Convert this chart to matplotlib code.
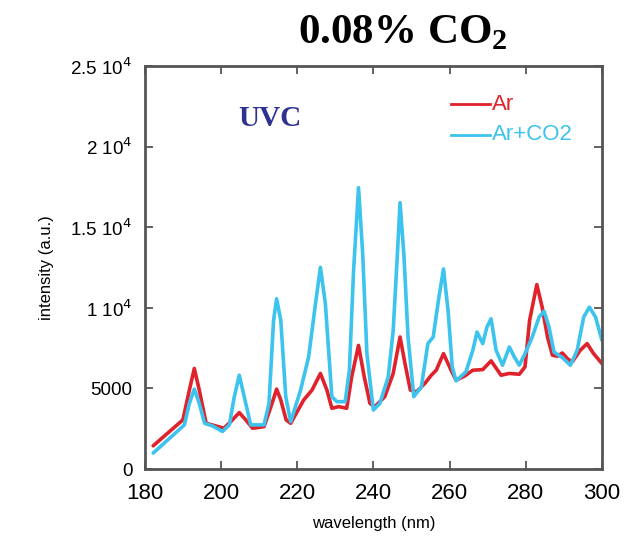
import matplotlib
matplotlib.use("Agg")
import matplotlib.pyplot as plt

plt.rcParams['font.family'] = ['Liberation Sans', 'DejaVu Sans']

# Ar+CO2 spectrum (blue)
wl_co2 = [182.2, 190.4, 191.7, 193.0, 194.3, 195.7, 197.8, 200.4, 202.2, 203.5, 204.8, 206.1, 207.8,
          211.3, 212.6, 213.8, 214.6, 215.7, 217.0, 218.3, 220.9, 223.0, 224.8, 226.1, 227.4, 229.1,
          230.4, 232.6, 233.7, 234.8, 236.1, 237.2, 238.3, 240.0, 241.7, 243.9, 245.2, 246.3, 247.0,
          248.0, 249.1, 250.6, 252.6, 254.3, 255.7, 257.2, 258.4, 259.6, 260.7, 261.7, 264.3, 266.1,
          267.2, 268.7, 269.8, 270.9, 272.2, 273.9, 275.7, 277.0, 278.3, 280.0, 281.7, 283.5, 284.8,
          286.1, 287.4, 289.6, 291.7, 293.5, 295.2, 296.7, 298.3, 300.0]
int_co2 = [990, 2740, 4070, 4960, 4070, 2840, 2670, 2330, 2740, 4490, 5820, 4490, 2740,
           2740, 4070, 9220, 10560, 9220, 4490, 2940, 4900, 6950, 10250, 12510, 10250, 4490,
           4180, 4180, 6130, 12300, 17450, 13330, 7160, 3660, 4070, 5720, 8600, 13330, 16520,
           13330, 8190, 4490, 5100, 7780, 8190, 10660, 12410, 9840, 6340, 5470, 6030, 7370,
           8500, 7780, 8810, 9320, 7370, 6440, 7570, 6950, 6440, 7260, 8190, 9430, 9790,
           8810, 7260, 6910, 6440, 7370, 9430, 10040, 9430, 7980]

# Ar spectrum (red)
wl_ar = [182.2, 190.0, 191.7, 193.0, 194.3, 196.1, 200.8, 203.0, 204.8, 206.5, 208.3, 211.3, 213.4,
         214.6, 215.7, 217.1, 218.3, 221.7, 223.9, 226.1, 227.8, 229.1, 230.9, 233.0, 234.3, 236.1,
         237.6, 239.1, 240.4, 243.0, 245.2, 247.0, 248.3, 249.7, 251.3, 253.5, 255.2, 256.5, 258.4,
         260.4, 261.7, 263.9, 266.1, 268.7, 270.9, 273.5, 275.7, 278.3, 279.8, 281.0, 282.9, 284.3,
         285.7, 287.0, 288.3, 289.6, 290.9, 292.2, 294.3, 296.1, 297.8, 300.0]
int_ar = [1440, 3050, 4900, 6240, 4900, 2840, 2530, 3050, 3500, 3050, 2530, 2630, 4070,
          4960, 4280, 3050, 2840, 4280, 4900, 5930, 4900, 3770, 3870, 3770, 5720, 7670,
          5720, 4070, 3870, 4490, 5930, 8190, 6540, 4900, 4790, 5310, 5820, 6130, 7160,
          6130, 5510, 5760, 6130, 6170, 6710, 5820, 5930, 5880, 6340, 9220, 11440, 10040,
          8190, 7060, 7000, 7200, 6850, 6650, 7370, 7780, 7160, 6540]

ytick_vals = [0, 5000, 10000, 15000, 20000, 25000]
ytick_labels = ['0', '5000', r'1 10$^4$', r'1.5 10$^4$', r'2 10$^4$', r'2.5 10$^4$']
xtick_vals = [180, 200, 220, 240, 260, 280, 300]

fig = plt.figure(figsize=(6.35, 5.41), dpi=100)
ax = fig.add_axes([0.228, 0.133, 0.72, 0.745])

red = '#e0222c'
blue = '#3cc3ee'
ax.plot(wl_ar, int_ar, color=red, lw=2.6, solid_joinstyle='round', solid_capstyle='round')
ax.plot(wl_co2, int_co2, color=blue, lw=2.6, solid_joinstyle='round', solid_capstyle='round')

ax.set_xlim(180, 300)
ax.set_ylim(0, 25000)
ax.set_xticks(xtick_vals)
ax.set_xticklabels([str(v) for v in xtick_vals], fontsize=16)
ax.set_yticks(ytick_vals)
ax.set_yticklabels(ytick_labels, fontsize=13.5)
ax.tick_params(direction='in', top=True, right=True, length=6, width=1.3, color='#555555')
ax.tick_params(axis='x', pad=10)
ax.tick_params(axis='y', pad=9)
for s in ax.spines.values():
    s.set_color('#555555')
    s.set_linewidth(2)

ax.set_xlabel('wavelength (nm)', fontsize=12, labelpad=9)
ax.set_ylabel('intensity (a.u.)', fontsize=12, labelpad=12)

fig.text(0.635, 0.94, r'0.08% CO$_\mathregular{2}$', fontsize=31, fontweight='bold',
         family='Liberation Serif', ha='center', va='center')
ax.text(0.205, 0.87, 'UVC', transform=ax.transAxes, fontsize=21, fontweight='bold',
        family='Liberation Serif', color='#2e3192', ha='left', va='center')

# legend
ax.plot([0.67, 0.755], [0.905, 0.905], transform=ax.transAxes, color=red, lw=2)
ax.text(0.76, 0.905, 'Ar', transform=ax.transAxes, color=red, fontsize=16, va='center')
ax.plot([0.67, 0.755], [0.83, 0.83], transform=ax.transAxes, color=blue, lw=2)
ax.text(0.76, 0.83, 'Ar+CO2', transform=ax.transAxes, color=blue, fontsize=16, va='center')

fig.savefig('out.png', dpi=100)
